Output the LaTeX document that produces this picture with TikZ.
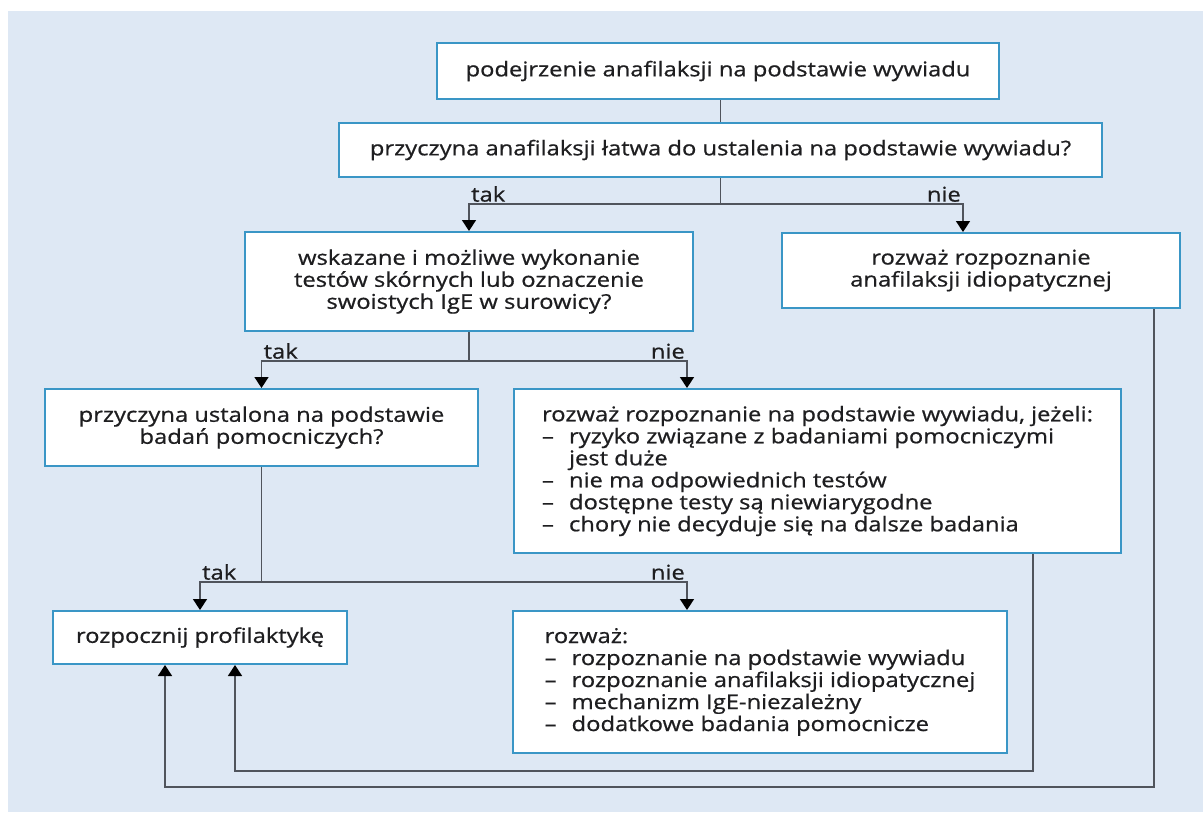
\documentclass[tikz,border=0pt]{standalone}
\usepackage{fontspec}
\setmainfont{Open Sans}[FakeStretch=1.17,FakeBold=0.7]
\usetikzlibrary{arrows.meta}
\definecolor{panelbg}{RGB}{222,232,244}
\definecolor{boxline}{RGB}{58,150,198}
\definecolor{conline}{RGB}{80,84,92}
\definecolor{txt}{RGB}{30,30,32}
\newcommand{\dashline}[1]{\makebox[27pt][l]{–}#1}
\newcommand{\contline}[1]{\hspace*{27pt}#1}
\begin{document}
\begin{tikzpicture}[x=1pt,y=-1pt,
  box/.style={draw=boxline,line width=2pt,fill=white,inner sep=0pt,align=center,text=txt,font=\fontsize{20.3}{22}\selectfont},
  conn/.style={draw=conline,line width=1.5pt},
  arr/.style={conn,-{Triangle[length=11pt,width=14pt,color=black]}},
  lbl/.style={text=txt,font=\fontsize{20.3}{22}\selectfont,inner sep=2pt}]
\useasboundingbox (0,0) rectangle (1203,812);
\fill[panelbg] (8,11) rectangle (1203,812);
\node[box,minimum width=562pt,minimum height=56pt] (susp) at (718,71) {podejrzenie anafilaksji na podstawie wywiadu};
\node[box,minimum width=763pt,minimum height=54pt] (easy) at (720.5,150) {przyczyna anafilaksji łatwa do ustalenia na podstawie wywiadu?};
\node[box,minimum width=448pt,minimum height=99pt] (tests) at (469,281.5) {wskazane i możliwe wykonanie\\testów skórnych lub oznaczenie\\swoistych IgE w surowicy?};
\node[box,minimum width=398pt,minimum height=75pt] (idio) at (981,270.5) {rozważ rozpoznanie\\anafilaksji idiopatycznej};
\node[box,minimum width=433pt,minimum height=77pt] (cause) at (261.5,427.5) {przyczyna ustalona na podstawie\\badań pomocniczych?};
\node[box,align=left,minimum width=607pt,minimum height=164pt] (hist) at (817.5,471) {rozważ rozpoznanie na podstawie wywiadu, jeżeli:\\\dashline{ryzyko związane z badaniami pomocniczymi}\\\contline{jest duże}\\\dashline{nie ma odpowiednich testów}\\\dashline{dostępne testy są niewiarygodne}\\\dashline{chory nie decyduje się na dalsze badania}};
\node[box,minimum width=294pt,minimum height=53pt] (prof) at (200,637.5) {rozpocznij profilaktykę};
\node[box,align=left,minimum width=494pt,minimum height=142pt] (cons) at (760,682) {rozważ:\\\dashline{rozpoznanie na podstawie wywiadu}\\\dashline{rozpoznanie anafilaksji idiopatycznej}\\\dashline{mechanizm IgE-niezależny}\\\dashline{dodatkowe badania pomocnicze}};
\coordinate (s1) at (720.5,204);
\coordinate (n1) at (963,204);
\coordinate (s2) at (469,361);
\coordinate (n2) at (687,361);
\coordinate (s3) at (261.5,582);
\coordinate (n3) at (687,582);
\coordinate (r1) at (1033,771);
\coordinate (r2) at (235,771);
\coordinate (q1) at (1154,787);
\coordinate (q2) at (165,787);
\draw[conn] (easy.north |- susp.south) -- (easy.north);
\draw[conn] (easy.south) -- (s1);
\draw[arr] (s1) -| (tests.north);
\draw[arr] (s1) -- (n1) -- (n1 |- idio.north);
\draw[conn] (tests.south) -- (s2);
\draw[arr] (s2) -| (cause.north);
\draw[arr] (s2) -- (n2) -- (n2 |- hist.north);
\draw[conn] (cause.south) -- (s3);
\draw[arr] (s3) -| (prof.north);
\draw[arr] (s3) -- (n3) -- (n3 |- cons.north);
\draw[arr] (hist.south -| r1) -- (r1) -- (r2) -- (r2 |- prof.south);
\draw[arr] (idio.south -| q1) -- (q1) -- (q2) -- (q2 |- prof.south);
\node[lbl,anchor=south west] (tak1) at (tests.north |- s1) {tak};
\node[lbl,anchor=south east] (nie1) at (n1) {nie};
\node[lbl,anchor=south west] (tak2) at (cause.north |- s2) {tak};
\node[lbl,anchor=south east] (nie2) at (n2) {nie};
\node[lbl,anchor=south west] (tak3) at (prof.north |- s3) {tak};
\node[lbl,anchor=south east] (nie3) at (n3) {nie};
\end{tikzpicture}
\end{document}
